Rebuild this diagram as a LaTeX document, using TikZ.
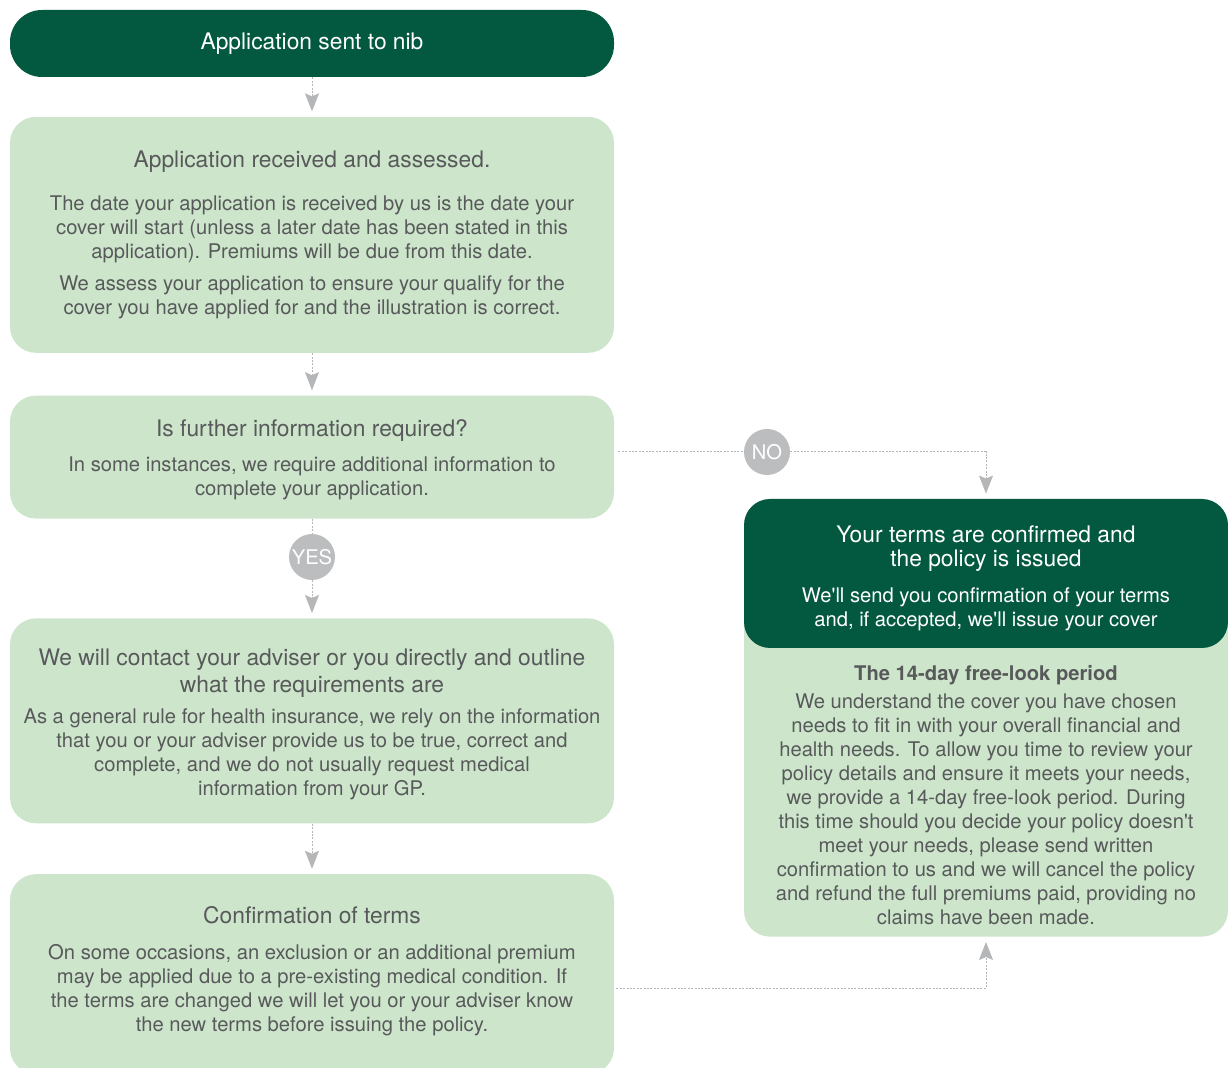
\documentclass[tikz,border=0pt]{standalone}
\usepackage{fontspec}
\setmainfont{TeX Gyre Heros}
\usetikzlibrary{arrows.meta,positioning,calc}
\definecolor{nibgreen}{HTML}{03593F}
\definecolor{palegreen}{HTML}{CDE6CB}
\definecolor{bodygray}{HTML}{58595B}
\definecolor{linegray}{HTML}{B5B6B8}
\definecolor{dotgray}{HTML}{BCBDBF}
\newcommand{\headfont}{\fontsize{11.4}{13.5}\selectfont}
\newcommand{\bodyfont}{\fontsize{10.1}{12}\selectfont}
\newcommand{\apos}{\textquotesingle}
\tikzset{
    darkbox/.style={fill=nibgreen, rounded corners=13pt, text=white, align=center, minimum width=302pt, font=\bodyfont},
    palebox/.style={fill=palegreen, rounded corners=13pt, text=bodygray, align=center, minimum width=302pt, font=\bodyfont},
    flowline/.style={draw=linegray, line width=0.5pt, dash pattern=on 1pt off 0.7pt},
    flow/.style={flowline, -{Stealth[length=9pt,width=7pt,inset=1.5pt]}, shorten >=2.5pt},
    choice/.style={circle, fill=dotgray, text=white, minimum size=23pt, inner sep=0pt, font=\bodyfont}
}
\begin{document}
\begin{tikzpicture}[x=0.5pt, y=-0.5pt]
\useasboundingbox (0,0) rectangle (1228,1068);

% Left column
\node[darkbox, minimum height=33.5pt, rounded corners=16pt] (sent) at (312,43.5) {\headfont Application sent to nib};
\node[palebox, below=19.5pt of sent, minimum height=118pt] (received)
{\headfont Application received and assessed.\\[9.5pt]
The date your application is received by us is the date your\\
cover will start (unless a later date has been stated in this\\
application). Premiums will be due from this date.\\[4pt]
We assess your application to ensure your qualify for the\\
cover you have applied for and the illustration is correct.};
\node[palebox, below=21pt of received, minimum height=61.5pt] (further)
{\headfont\rule{0pt}{11pt}Is further information required?\\[5.5pt]
In some instances, we require additional information to\\
complete your application.};
\node[palebox, below=49.5pt of further, minimum height=102.5pt] (contact)
{\headfont\rule{0pt}{12pt}We will contact your adviser or you directly and outline\\[1.5pt]
\headfont what the requirements are\\[3.5pt]
As a general rule for health insurance, we rely on the information\\
that you or your adviser provide us to be true, correct and\\
complete, and we do not usually request medical\\
information from your GP.};
\node[palebox, below=25pt of contact, minimum height=100pt] (terms)
{\headfont Confirmation of terms\\[6pt]
On some occasions, an exclusion or an additional premium\\
may be applied due to a pre-existing medical condition. If\\
the terms are changed we will let you or your adviser know\\
the new terms before issuing the policy.\rule[-5pt]{0pt}{0pt}};

% Right column
\node[palebox, minimum width=242pt, inner ysep=6pt, anchor=south] (freelook) at (986,937)
{\rule{0pt}{33pt}\textbf{The 14-day free-look period}\\[2pt]
We understand the cover you have chosen\\
needs to fit in with your overall financial and\\
health needs. To allow you time to review your\\
policy details and ensure it meets your needs,\\
we provide a 14-day free-look period. During\\
this time should you decide your policy doesn\apos t\\
meet your needs, please send written\\
confirmation to us and we will cancel the policy\\
and refund the full premiums paid, providing no\\
claims have been made.};
\node[darkbox, minimum width=242pt, minimum height=74.5pt] (issued) at (986,573.5)
{\headfont\rule{0pt}{13.5pt}Your terms are confirmed and\\
\headfont the policy is issued\\[6pt]
We\apos ll send you confirmation of your terms\\
and, if accepted, we\apos ll issue your cover};

% Decisions
\node[choice] (yes) at (312,557) {YES};
\node[choice] (no) at (767,452) {NO};

% Connectors
\draw[flow] (sent) -- (received);
\draw[flow] (received) -- (further);
\draw[flowline] (further) -- (yes);
\draw[flow] (yes) -- (contact);
\draw[flow] (contact) -- (terms);
\draw[flowline, shorten <=2pt] (no -| further.east) -- (no);
\draw[flow] (no) -| (issued.north);
\draw[flow, shorten <=1pt] ([yshift=-7pt]terms.east) -| (freelook.south);
\end{tikzpicture}
\end{document}
